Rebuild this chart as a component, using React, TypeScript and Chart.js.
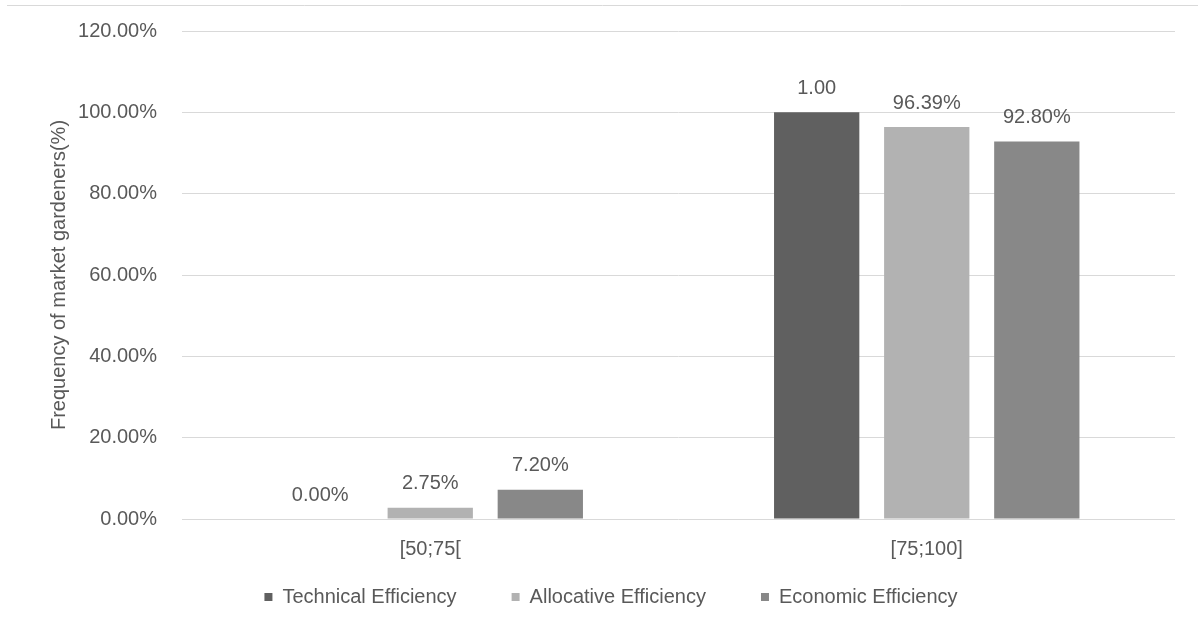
import React, { useEffect, useRef } from "react";
import { Chart, registerables } from "chart.js";

Chart.register(...registerables);

const categories = ["[50;75[", "[75;100]"];
const seriesNames = ["Technical Efficiency", "Allocative Efficiency", "Economic Efficiency"];
const technical = [0, 100];
const allocative = [2.75, 96.39];
const economic = [7.2, 92.8];
const technicalLabels = ["0.00%", "1.00"];
const allocativeLabels = ["2.75%", "96.39%"];
const economicLabels = ["7.20%", "92.80%"];
const colors = ["#606060", "#b2b2b2", "#888888"];
const yTicks = { min: 0, max: 120, step: 20 };
const yTitle = "Frequency of market gardeners(%)";

const FONT = "'Liberation Sans', Arial, sans-serif";
const TEXT = "#595959";
const GRID = "#d9d9d9";

const labelSets = [technicalLabels, allocativeLabels, economicLabels];

const dataLabelPlugin = {
  id: "dataLabels",
  afterDatasetsDraw(chart: any) {
    const ctx = chart.ctx;
    ctx.save();
    ctx.font = `20px ${FONT}`;
    ctx.fillStyle = TEXT;
    ctx.textAlign = "center";
    ctx.textBaseline = "middle";
    chart.data.datasets.forEach((ds: any, di: number) => {
      const meta = chart.getDatasetMeta(di);
      meta.data.forEach((bar: any, i: number) => {
        ctx.fillText(labelSets[di][i], bar.x, bar.y - 24);
      });
    });
    // category labels, placed through the x scale
    const xs = chart.scales.x;
    chart.data.labels.forEach((lab: string, i: number) => {
      ctx.fillText(lab, xs.getPixelForValue(i), xs.top + 30);
    });
    ctx.restore();
  },
};

const frameLinePlugin = {
  id: "frameLine",
  beforeDraw(chart: any) {
    const ctx = chart.ctx;
    ctx.save();
    ctx.strokeStyle = GRID;
    ctx.lineWidth = 1;
    ctx.beginPath();
    ctx.moveTo(7, 5.5);
    ctx.lineTo(1198, 5.5);
    ctx.stroke();
    ctx.restore();
  },
};

export default function App() {
  const ref = useRef<HTMLCanvasElement>(null);
  useEffect(() => {
    if (!ref.current) return;
    const chart = new Chart(ref.current, {
      type: "bar",
      data: {
        labels: categories,
        datasets: [technical, allocative, economic].map((d, i) => ({
          label: seriesNames[i],
          data: d,
          backgroundColor: colors[i],
          borderWidth: 0,
          barPercentage: 0.775,
          categoryPercentage: 0.665,
        })),
      },
      options: {
        animation: false,
        responsive: false,
        layout: { padding: { left: 47, right: 24, top: 31, bottom: 13 } },
        plugins: {
          legend: {
            position: "bottom",
            labels: {
              boxWidth: 8,
              boxHeight: 8,
              padding: 55,
              color: TEXT,
              font: { family: FONT, size: 20 },
            },
          },
          tooltip: { enabled: false },
        },
        scales: {
          x: {
            grid: { display: false, drawTicks: false },
            border: { display: false },
            ticks: { display: false },
            afterFit(scale: any) {
              scale.height = 13;
            },
          },
          y: {
            min: yTicks.min,
            max: yTicks.max,
            grid: { color: GRID, drawTicks: true, tickLength: 20, tickColor: "rgba(0,0,0,0)", lineWidth: 1 },
            border: { display: false },
            ticks: {
              stepSize: yTicks.step,
              color: TEXT,
              padding: 5,
              font: { family: FONT, size: 20 },
              callback: (v: any) => Number(v).toFixed(2) + "%",
            },
            title: {
              display: true,
              text: yTitle,
              color: TEXT,
              font: { family: FONT, size: 20 },
              padding: { top: 0, bottom: 0 },
            },
            afterFit(scale: any) {
              scale.width = 135;
            },
          },
        },
      },
      plugins: [dataLabelPlugin, frameLinePlugin],
    });
    return () => chart.destroy();
  }, []);
  return (
    <div style={{ position: "fixed", left: 0, top: 0, width: 1199, height: 630, background: "#fff" }}>
      <canvas ref={ref} width={1199} height={630} style={{ display: "block" }} />
    </div>
  );
}
